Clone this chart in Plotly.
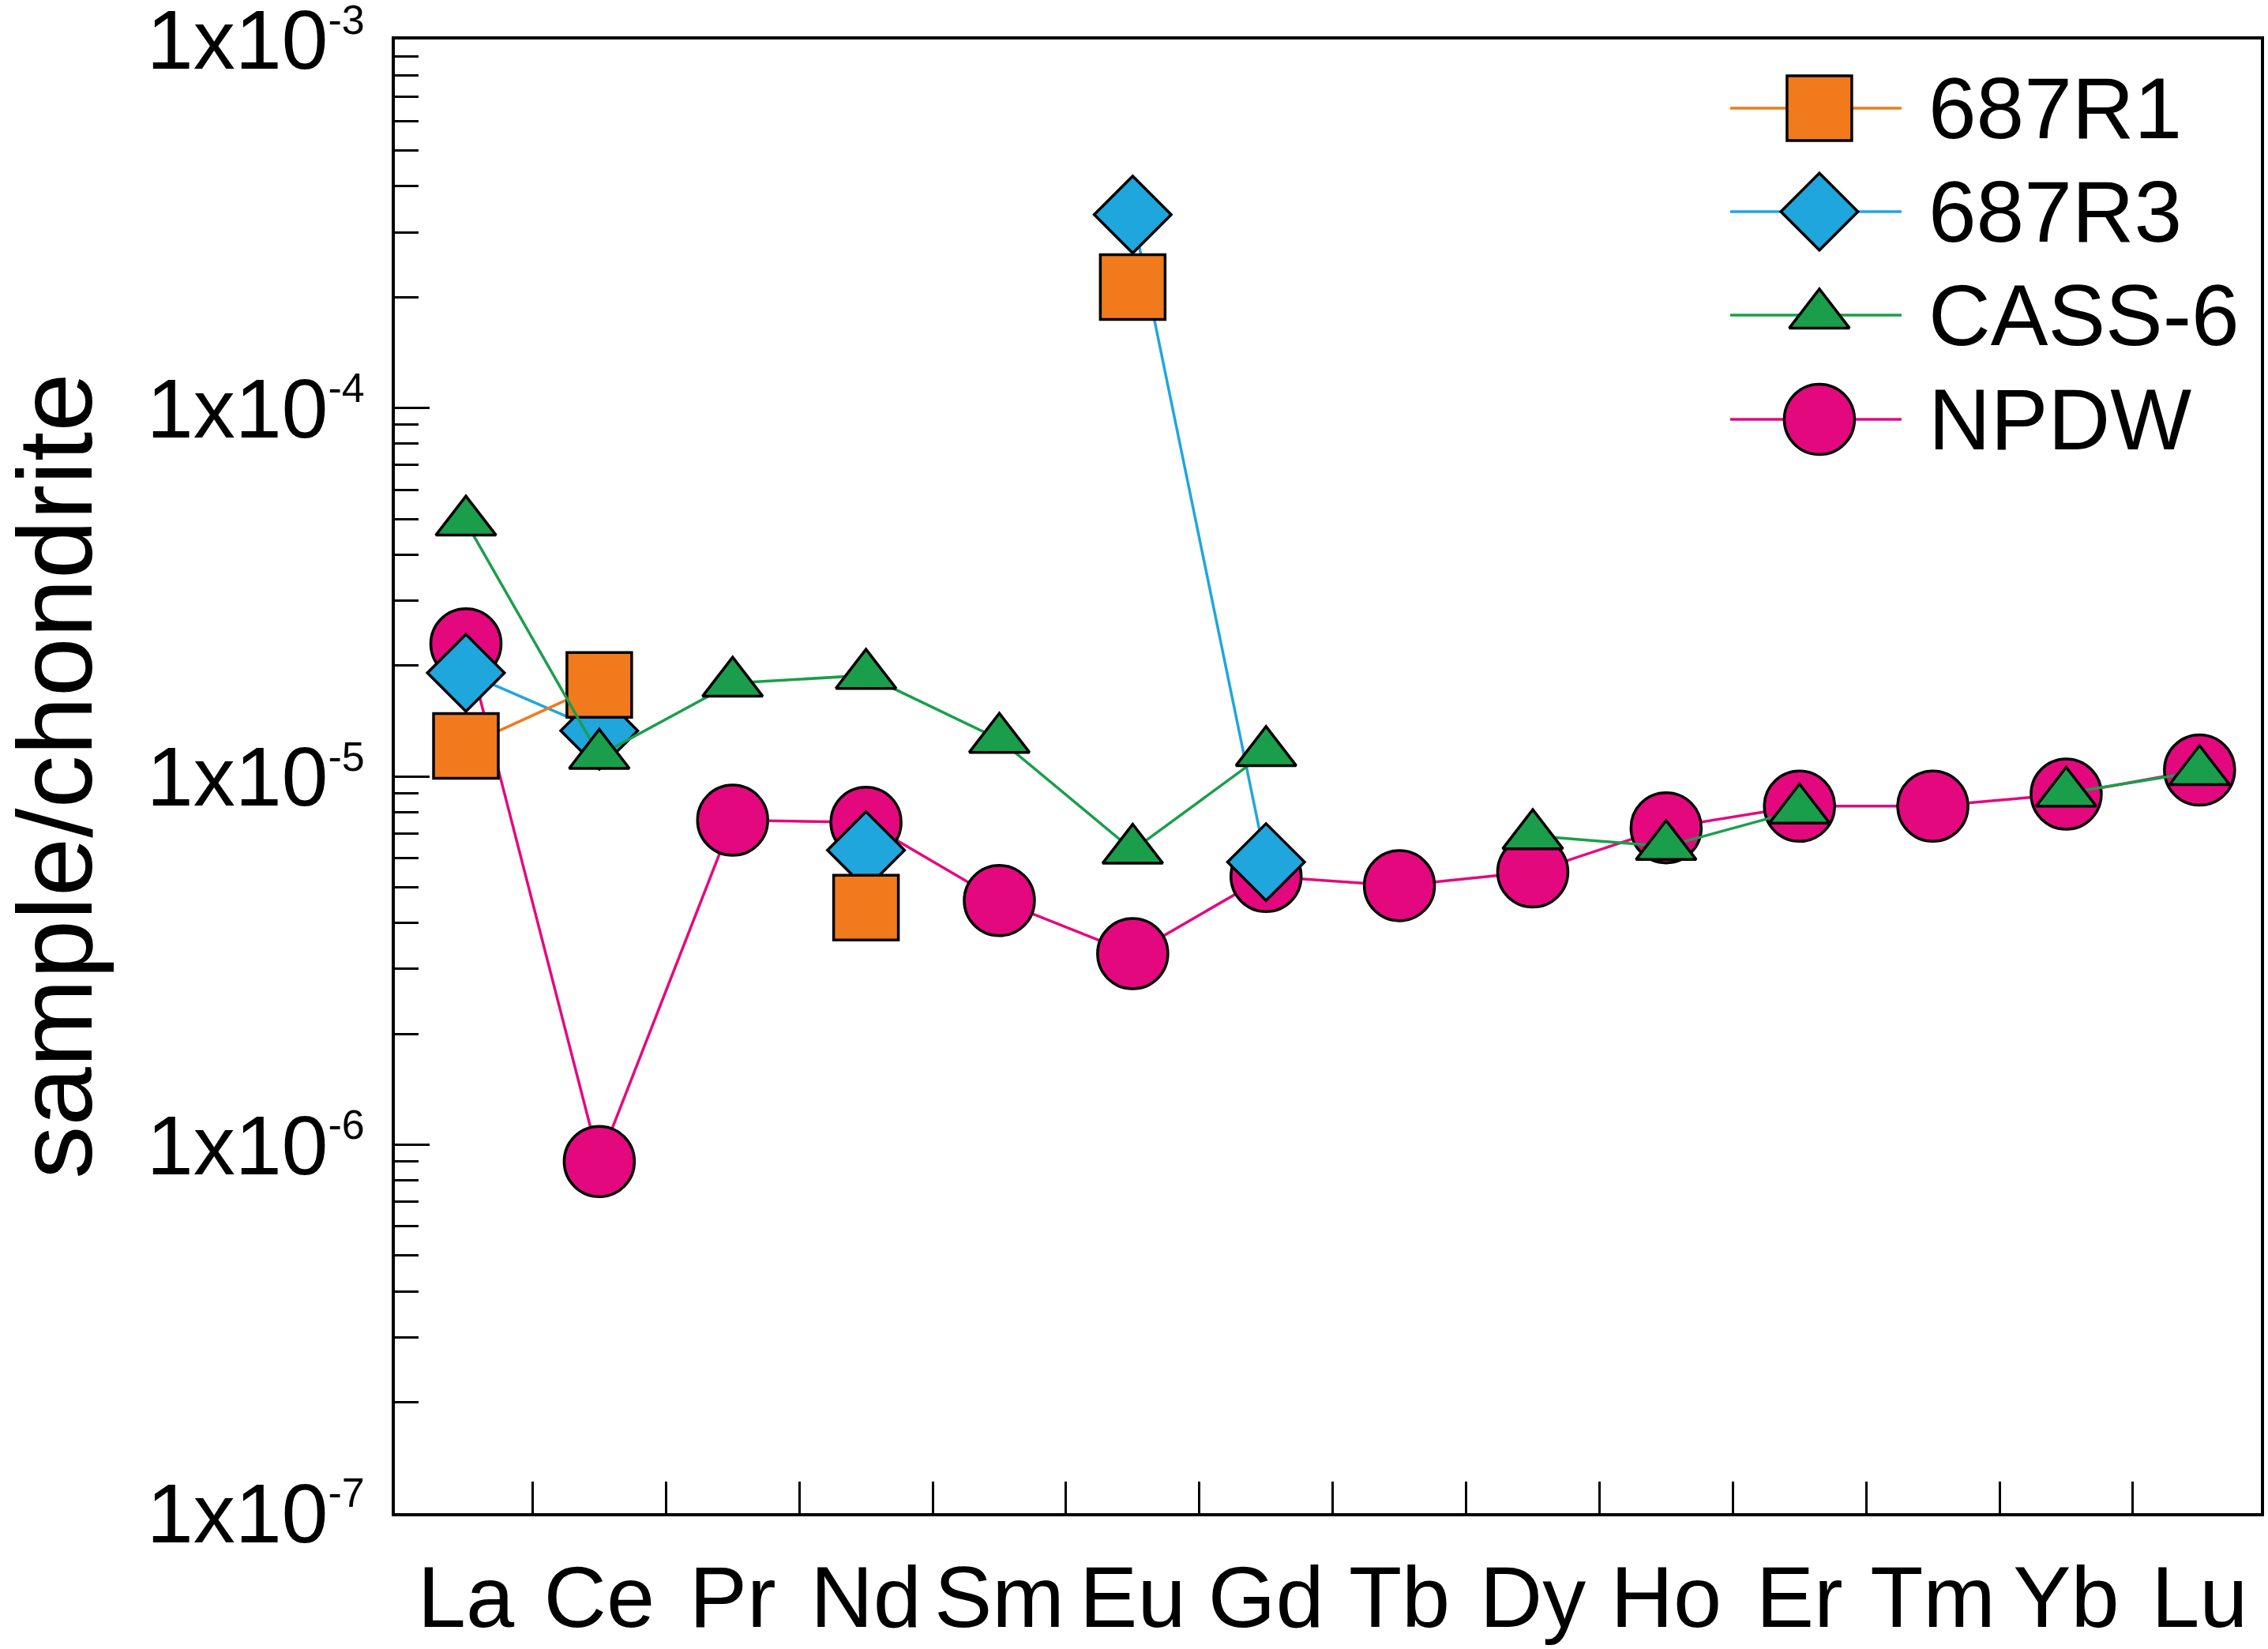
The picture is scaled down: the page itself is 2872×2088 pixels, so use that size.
import plotly.graph_objects as go

# ---------------- data ----------------
elements = ["La", "Ce", "Pr", "Nd", "Sm", "Eu", "Gd", "Tb", "Dy", "Ho", "Er", "Tm", "Yb", "Lu"]

r1_687 = [1.21e-5, 1.77e-5, None, 4.4e-6, None, 2.13e-4, None,
          None, None, None, None, None, None, None]
r3_687 = [1.91e-5, 1.33e-5, None, 6.3e-6, None, 3.35e-4, 5.85e-6,
          None, None, None, None, None, None, None]
cass6 = [4.9e-5, 1.14e-5, 1.79e-5, 1.88e-5, 1.26e-5, 6.3e-6, 1.16e-5,
         None, 6.9e-6, 6.45e-6, 8.1e-6, None, 9.0e-6, 1.03e-5]
npdw = [2.29e-5, 9.0e-7, 7.6e-6, 7.5e-6, 4.6e-6, 3.3e-6, 5.35e-6,
        5.05e-6, 5.5e-6, 7.25e-6, 8.3e-6, 8.3e-6, 8.95e-6, 1.04e-5]

y_exponents = [-7, -6, -5, -4, -3]
y_ticktext = ["1x10<sup><span style='font-size:52px'>%d</span></sup>" % e
              for e in y_exponents]

series_names = ["687R1", "687R3", "CASS-6", "NPDW"]
# --------------------------------------

FONT = "Liberation Sans, Arial, Helvetica, sans-serif"
styles = {
    "687R1": dict(color="#F07A1C", symbol="square", size=82),
    "687R3": dict(color="#1FA6DD", symbol="diamond", size=75),
    "CASS-6": dict(color="#1A9E4B", symbol="triangle-up", size=66),
    "NPDW": dict(color="#E4087F", symbol="circle", size=89),
}
values = {"687R1": r1_687, "687R3": r3_687, "CASS-6": cass6, "NPDW": npdw}
draw_order = ["NPDW", "687R3", "687R1", "CASS-6"]

xidx = list(range(len(elements)))
fig = go.Figure()

for name in draw_order:
    st = styles[name]
    fig.add_trace(go.Scatter(
        x=xidx, y=values[name], name=name, mode="lines+markers",
        connectgaps=False, cliponaxis=False,
        line=dict(color=st["color"], width=3.5),
        marker=dict(symbol=st["symbol"], size=st["size"], color=st["color"],
                    line=dict(color="black", width=3.5)),
    ))

# custom legend (inside the plot, top right), drawn on an overlay 0..1 axis pair
leg_x0, leg_x1, leg_xm, leg_xt = 0.7156, 0.8074, 0.7634, 0.821
leg_rows = [0.9534, 0.8832, 0.8130, 0.7422]
for name, yr in zip(series_names, leg_rows):
    st = styles[name]
    fig.add_trace(go.Scatter(
        x=[leg_x0, leg_x1], y=[yr, yr], mode="lines", xaxis="x2", yaxis="y2",
        line=dict(color=st["color"], width=3.5), showlegend=False, hoverinfo="skip"))
    fig.add_trace(go.Scatter(
        x=[leg_xm], y=[yr], mode="markers", xaxis="x2", yaxis="y2",
        marker=dict(symbol=st["symbol"], size=st["size"], color=st["color"],
                    line=dict(color="black", width=3.5)),
        showlegend=False, hoverinfo="skip"))
    fig.add_annotation(x=leg_xt, y=yr, xref="paper", yref="paper", text=name,
                       showarrow=False, xanchor="left", yanchor="middle",
                       font=dict(family=FONT, size=109, color="black"))

# y-axis title as rotated text
fig.add_annotation(x=-0.1825, y=0.5, xref="paper", yref="paper",
                   text="sample/chondrite", textangle=-90, showarrow=False,
                   xanchor="center", yanchor="middle",
                   font=dict(family=FONT, size=134, color="black"))

minor_y = [m * 10.0 ** e for e in y_exponents[:-1] for m in range(2, 10)]
minor_x = [i + 0.5 for i in xidx[:-1]]

fig.update_layout(
    template="none",
    width=2872, height=2088,
    margin=dict(l=500, r=9, t=50, b=172, pad=0),
    plot_bgcolor="white", paper_bgcolor="white",
    showlegend=False,
    font=dict(family=FONT, color="black"),
    xaxis=dict(
        range=[-0.533, 13.46], tickmode="array", tickvals=xidx, ticktext=elements,
        ticks="", showgrid=False, zeroline=False, automargin=False,
        showline=True, linecolor="black", linewidth=4, mirror=True,
        tickfont=dict(family=FONT, size=110, color="black"),
        ticklabelstandoff=8, ticklabeloverflow="allow",
        minor=dict(tickmode="array", tickvals=minor_x, ticks="inside",
                   ticklen=40, tickwidth=3, tickcolor="black", showgrid=False),
    ),
    yaxis=dict(
        type="log", range=[-7.0004, -2.9996], tickmode="array",
        tickvals=[10.0 ** e for e in y_exponents], ticktext=y_ticktext,
        ticks="inside", ticklen=44, tickwidth=3, tickcolor="black",
        showgrid=False, zeroline=False, automargin=False,
        showline=True, linecolor="black", linewidth=4, mirror=True,
        tickfont=dict(family=FONT, size=106, color="black"),
        ticklabelstandoff=13, ticklabeloverflow="allow",
        minor=dict(tickmode="array", tickvals=minor_y, ticks="inside",
                   ticklen=30, tickwidth=3, tickcolor="black", showgrid=False),
    ),
    xaxis2=dict(range=[0, 1], overlaying="x", anchor="y2", visible=False,
                fixedrange=True, automargin=False),
    yaxis2=dict(range=[0, 1], overlaying="y", anchor="x2", visible=False,
                fixedrange=True, automargin=False),
)

fig.write_html("out.html",
               config={"displayModeBar": False},
               post_script="document.body.style.margin='0';document.body.style.overflow='hidden';")
